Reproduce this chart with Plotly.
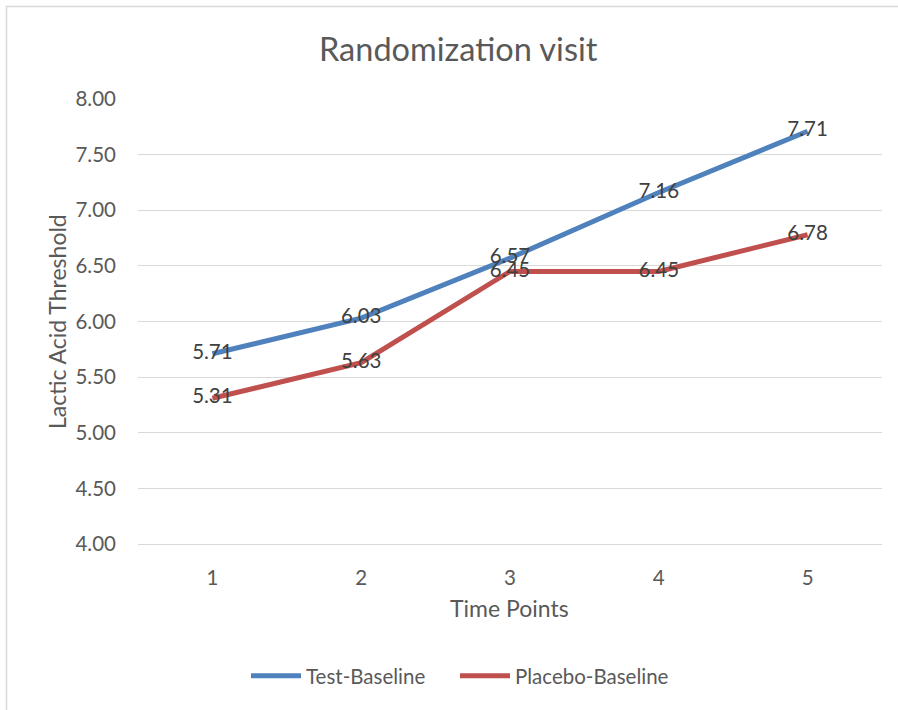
import plotly.graph_objects as go

time_points = [1, 2, 3, 4, 5]
test_baseline = [5.71, 6.03, 6.57, 7.16, 7.71]
placebo_baseline = [5.31, 5.63, 6.45, 6.45, 6.78]
y_ticks = [4.0, 4.5, 5.0, 5.5, 6.0, 6.5, 7.0, 7.5, 8.0]

FONT = "Lato"
W, H = 898, 710
L, R, T, B = 138, 16, 99, 166
pw, ph = W - L - R, H - T - B

def px(x):
    return (x - L) / pw

def py(y):
    return (H - B - y) / ph

fig = go.Figure()
fig.add_trace(go.Scatter(
    x=time_points, y=test_baseline, name="Test-Baseline",
    mode="lines+text", text=[f"{v:.2f}" for v in test_baseline],
    textposition="middle center",
    textfont=dict(family=FONT, size=20.5, color="#404040"),
    line=dict(color="#4F81BD", width=5), legend="legend",
))
fig.add_trace(go.Scatter(
    x=time_points, y=placebo_baseline, name="Placebo-Baseline",
    mode="lines+text", text=[f"{v:.2f}" for v in placebo_baseline],
    textposition="middle center",
    textfont=dict(family=FONT, size=20.5, color="#404040"),
    line=dict(color="#C0504D", width=5), legend="legend2",
))

legend_common = dict(orientation="h", yanchor="middle", xanchor="left",
                     font=dict(family=FONT, size=20.5, color="#595959"), itemwidth=50,
                     bgcolor="rgba(0,0,0,0)")

fig.update_layout(
    width=W, height=H,
    margin=dict(l=L, r=R, t=T, b=B),
    paper_bgcolor="white", plot_bgcolor="white",
    font=dict(family=FONT, color="#595959"),
    showlegend=True,
    legend=dict(x=px(246), y=py(676), **legend_common),
    legend2=dict(x=px(455), y=py(676), **legend_common),
    xaxis=dict(range=[0.5, 5.5], tickmode="array", tickvals=time_points,
               ticktext=[str(t) for t in time_points],
               showgrid=False, showline=True, linecolor="#D9D9D9", linewidth=1,
               ticks="", tickfont=dict(family=FONT, size=20.5, color="#595959"),
               ticklabelstandoff=15, zeroline=False),
    yaxis=dict(range=[4.0, 8.0], tickmode="array", tickvals=y_ticks,
               ticktext=[f"{v:.2f}" for v in y_ticks],
               showgrid=True, gridcolor="#D9D9D9", gridwidth=1, zeroline=False,
               showline=False, ticks="",
               tickfont=dict(family=FONT, size=20.5, color="#595959"),
               ticklabelstandoff=21),
    annotations=[
        dict(text="Randomization visit", x=px(458), y=py(48), xref="paper", yref="paper",
             showarrow=False, font=dict(family=FONT, size=32.5, color="#595959"),
             xanchor="center", yanchor="middle"),
        dict(text="Time Points", x=px(509), y=py(608), xref="paper", yref="paper",
             showarrow=False, font=dict(family=FONT, size=23, color="#595959"),
             xanchor="center", yanchor="middle"),
        dict(text="Lactic Acid Threshold", x=px(57), y=py(322), xref="paper", yref="paper",
             showarrow=False, textangle=-90, font=dict(family=FONT, size=23, color="#595959"),
             xanchor="center", yanchor="middle"),
    ],
    shapes=[
        dict(type="rect", xref="paper", yref="paper", x0=px(6.5), y0=py(730), x1=px(920), y1=py(6.5),
             line=dict(color="#D9D9D9", width=1.5), fillcolor="rgba(0,0,0,0)", layer="below"),
    ],
)

fig.write_html("out.html")
